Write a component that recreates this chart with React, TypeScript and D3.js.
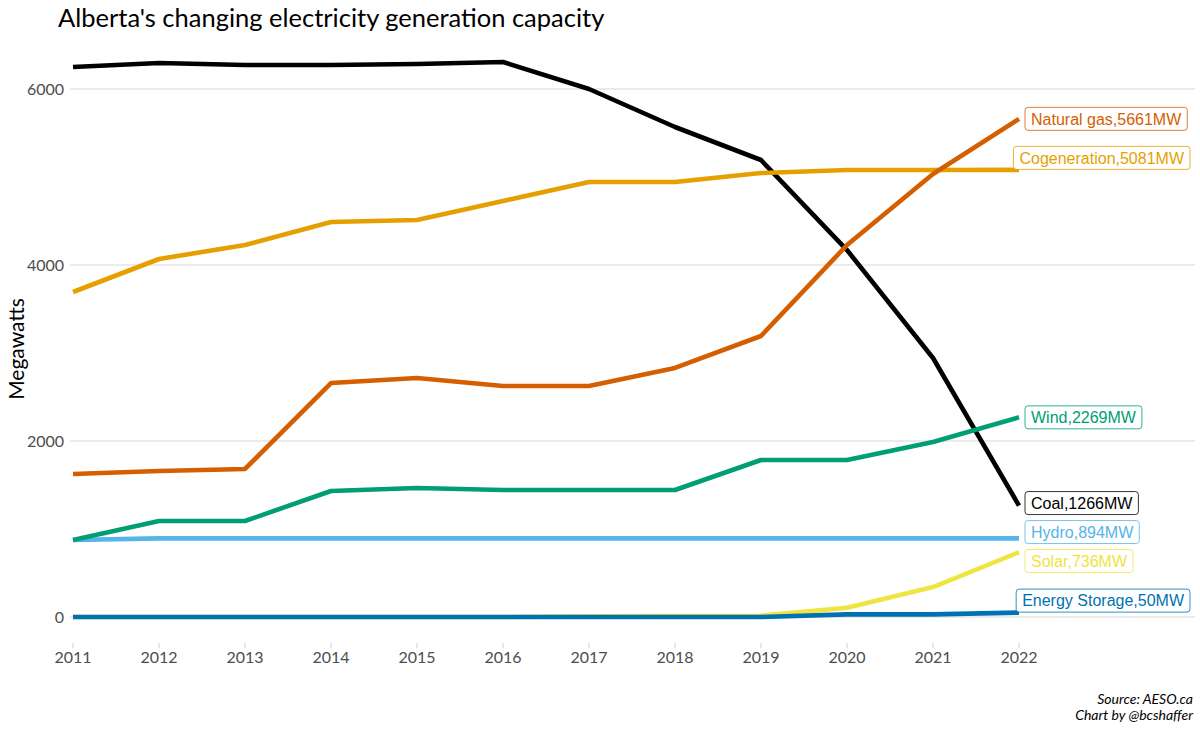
import React from "react";
import * as d3 from "d3";

const years = [2011, 2012, 2013, 2014, 2015, 2016, 2017, 2018, 2019, 2020, 2021, 2022];
const coal = [6250, 6295, 6273, 6273, 6284, 6307, 6000, 5568, 5193, 4170, 2943, 1266];
const cogeneration = [3693, 4068, 4227, 4489, 4511, 4727, 4943, 4943, 5045, 5080, 5080, 5081];
const naturalGas = [1625, 1659, 1682, 2659, 2716, 2625, 2625, 2830, 3193, 4227, 5034, 5661];
const wind = [875, 1091, 1091, 1432, 1466, 1443, 1443, 1443, 1784, 1784, 1989, 2269];
const hydro = [875, 894, 894, 894, 894, 894, 894, 894, 894, 894, 894, 894];
const solar = [0, 0, 0, 0, 0, 0, 8, 12, 15, 105, 340, 736];
const storage = [0, 0, 0, 0, 0, 0, 0, 0, 0, 30, 30, 50];
const yTicks = [0, 2000, 4000, 6000];

const seriesNames = ["Coal", "Cogeneration", "Hydro", "Solar", "Energy Storage", "Natural gas", "Wind"];
const seriesValues = [coal, cogeneration, hydro, solar, storage, naturalGas, wind];
const seriesColors = ["#000000", "#E69F00", "#56B4E9", "#F0E442", "#0072B2", "#D55E00", "#009E73"];

const W = 1200, H = 729;
const panel = { left: 70, right: 1195, top: 34, bottom: 645 };

function textWidth(s: string, font: string) {
  const c = document.createElement("canvas").getContext("2d")!;
  c.font = font;
  return c.measureText(s).width;
}

export default function App() {
  const x = d3.scaleLinear().domain([2011, 2022]).range([73, 1019]);
  const y = d3.scaleLinear().domain([0, 6000]).range([617, 89]);
  const line = d3.line<number>().x((_, i) => x(years[i])).y((d) => y(d));

  const labelFont = "16px 'Liberation Sans', Arial, sans-serif";
  const boxH = 23;
  const padX = 6;
  const xEnd = x(years[years.length - 1]);
  const labels = seriesNames.map((name, k) => {
    const v = seriesValues[k][seriesValues[k].length - 1];
    const text = `${name},${v}MW`;
    const w = textWidth(text, labelFont) + padX * 2;
    let bx = xEnd + 6;
    if (bx + w > panel.right - 5) bx = panel.right - 5 - w;
    const py = y(v);
    let cy = py;
    const fixed = bx < xEnd + 2;
    if (fixed) cy = py - boxH / 2 - 0.5;
    return { text, w, bx, cy, py, color: seriesColors[k], fixed };
  });
  const gap = 29;
  for (let it = 0; it < 200; it++) {
    const order = labels.slice().sort((a, b) => a.cy - b.cy);
    for (let i = 0; i < order.length - 1; i++) {
      const a = order[i], b = order[i + 1];
      const d = b.cy - a.cy;
      if (d < gap) {
        const push = (gap - d) / 2;
        if (a.fixed && !b.fixed) b.cy += push * 2;
        else if (b.fixed && !a.fixed) a.cy -= push * 2;
        else { a.cy -= push; b.cy += push; }
      }
    }
  }

  return (
    <svg width={W} height={H} style={{ display: "block", position: "absolute", left: 0, top: 0, background: "#fff" }}>
      <text x={58} y={27} fontFamily="Lato" fontSize={25.5} fill="#000">
        Alberta's changing electricity generation capacity
      </text>
      {yTicks.map((t) => (
        <g key={t}>
          <line x1={panel.left} x2={panel.right} y1={y(t)} y2={y(t)} stroke="#d6d6d6" strokeWidth={1} />
          <text x={64} y={y(t)} dy="0.35em" textAnchor="end" fontFamily="Lato" fontSize={16} fill="#4d4d4d">
            {t}
          </text>
        </g>
      ))}
      {years.map((yr) => (
        <g key={yr}>
          <line x1={x(yr)} x2={x(yr)} y1={643} y2={648} stroke="#cfcfcf" strokeWidth={1} />
          <text x={x(yr)} y={663} textAnchor="middle" fontFamily="Lato" fontSize={16} fill="#4d4d4d">
            {yr}
          </text>
        </g>
      ))}
      <text transform={`translate(24,349) rotate(-90)`} textAnchor="middle" fontFamily="Lato" fontSize={21} fill="#000">
        Megawatts
      </text>
      {seriesValues.map((vals, k) => (
        <path key={seriesNames[k]} d={line(vals) || ""} fill="none" stroke={seriesColors[k]} strokeWidth={4.6} strokeLinejoin="round" />
      ))}
      {labels.map((l) => (
        <g key={l.text}>
          <rect x={l.bx} y={l.cy - boxH / 2} width={l.w} height={boxH} rx={3} fill="#fff" stroke={l.color} strokeWidth={0.8} />
          <text x={l.bx + padX} y={l.cy} dy="0.36em" fontFamily="'Liberation Sans', Arial, sans-serif" fontSize={16} fill={l.color}>
            {l.text}
          </text>
        </g>
      ))}
      <text x={1193} y={704} textAnchor="end" fontFamily="Lato" fontStyle="italic" fontSize={14} fill="#000">Source: AESO.ca</text>
      <text x={1193} y={720} textAnchor="end" fontFamily="Lato" fontStyle="italic" fontSize={14} fill="#000">Chart by @bcshaffer</text>
    </svg>
  );
}
